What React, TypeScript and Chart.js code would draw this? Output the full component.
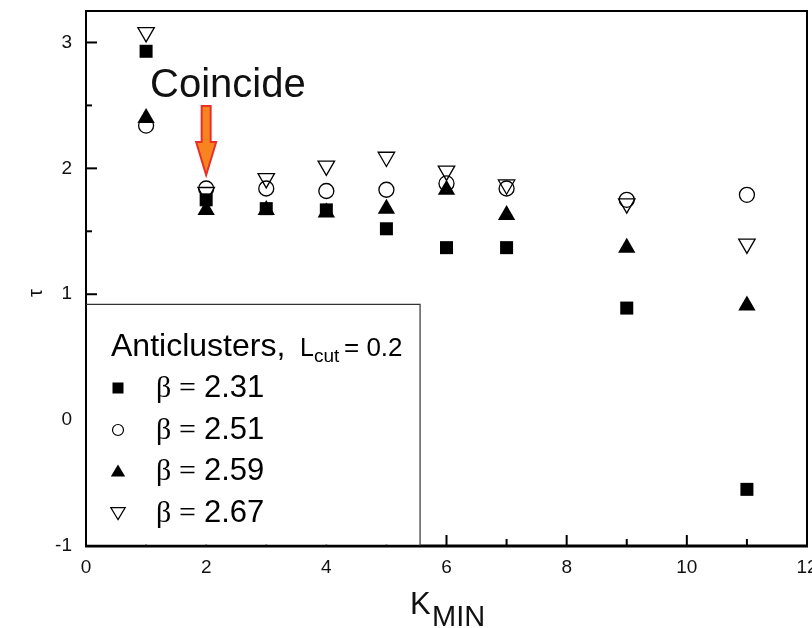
import React, { useEffect, useRef } from "react";
import { Chart, registerables } from "chart.js";

Chart.register(...registerables);

const kMin = [1, 2, 3, 4, 5, 6, 7, 9, 11];
const tau231 = [2.93, 1.75, 1.68, 1.67, 1.52, 1.37, 1.37, 0.89, -0.55];
const tau251 = [2.34, 1.84, 1.84, 1.82, 1.83, 1.88, 1.84, 1.75, 1.79];
const tau259 = [2.4, 1.67, 1.67, 1.65, 1.68, 1.83, 1.63, 1.37, 0.91];
const tau267 = [3.08, 1.81, 1.92, 2.02, 2.09, 1.98, 1.87, 1.72, 1.4];
const betaLabels = ["2.31", "2.51", "2.59", "2.67"];
const xTicks = [0, 2, 4, 6, 8, 10, 12];
const yTicks = [-1, 0, 1, 2, 3];
const legendTitle = "Anticlusters,";
const annotationText = "Coincide";

const SANS = '"Liberation Sans", Arial, sans-serif';
const SERIF = '"Liberation Serif", "Times New Roman", serif';

function pts(ys: number[]) {
  return kMin.map((x, i) => ({ x, y: ys[i] }));
}

function drawMarker(ctx: CanvasRenderingContext2D, kind: number, x: number, y: number, s: number) {
  ctx.save();
  ctx.lineWidth = 1.2;
  ctx.strokeStyle = "#000";
  ctx.fillStyle = "#000";
  ctx.beginPath();
  if (kind === 0) {
    ctx.fillRect(x - s / 2, y - s / 2, s, s);
  } else if (kind === 1) {
    ctx.arc(x, y, s / 2, 0, Math.PI * 2);
    ctx.stroke();
  } else if (kind === 2) {
    ctx.moveTo(x, y - s * 0.55);
    ctx.lineTo(x + s * 0.6, y + s * 0.45);
    ctx.lineTo(x - s * 0.6, y + s * 0.45);
    ctx.closePath();
    ctx.fill();
  } else {
    ctx.moveTo(x, y + s * 0.55);
    ctx.lineTo(x + s * 0.6, y - s * 0.45);
    ctx.lineTo(x - s * 0.6, y - s * 0.45);
    ctx.closePath();
    ctx.stroke();
  }
  ctx.restore();
}

const decorPlugin = {
  id: "decor",
  afterDatasetsDraw(chart: any) {
    const ctx: CanvasRenderingContext2D = chart.ctx;
    const { left, right, top, bottom } = chart.chartArea;
    const xs = chart.scales.x;
    const ys = chart.scales.y;
    ctx.save();
    // frame
    ctx.strokeStyle = "#000";
    ctx.lineWidth = 2;
    ctx.strokeRect(left, top, right - left, bottom - top);
    ctx.lineWidth = 3;
    ctx.beginPath();
    ctx.moveTo(left - 1, bottom);
    ctx.lineTo(right + 1, bottom);
    ctx.stroke();
    // ticks
    ctx.lineWidth = 2;
    for (let v = 0; v <= 12; v += 1) {
      const px = xs.getPixelForValue(v);
      const len = v % 2 === 0 ? 11 : 7;
      ctx.beginPath();
      ctx.moveTo(px, bottom);
      ctx.lineTo(px, bottom - len);
      ctx.stroke();
    }
    for (let v = -1; v <= 3; v += 0.5) {
      const py = ys.getPixelForValue(v);
      const len = Number.isInteger(v) ? 11 : 6;
      ctx.beginPath();
      ctx.moveTo(left, py);
      ctx.lineTo(left + len, py);
      ctx.stroke();
    }
    // legend box
    const lbLeft = left;
    const lbRight = xs.getPixelForValue(5.56);
    const lbTop = ys.getPixelForValue(0.92);
    ctx.fillStyle = "#fff";
    ctx.fillRect(lbLeft + 1, lbTop, lbRight - lbLeft - 1, bottom - lbTop - 1.5);
    ctx.lineWidth = 1.2;
    ctx.strokeStyle = "#333";
    ctx.beginPath();
    ctx.moveTo(lbLeft, lbTop);
    ctx.lineTo(lbRight, lbTop);
    ctx.lineTo(lbRight, bottom);
    ctx.stroke();

    ctx.fillStyle = "#000";
    ctx.textBaseline = "alphabetic";
    ctx.textAlign = "left";
    ctx.font = `32px ${SANS}`;
    ctx.fillText(legendTitle, lbLeft + 25, lbTop + 52);
    ctx.font = `25px ${SANS}`;
    ctx.fillText("L", lbLeft + 214, lbTop + 52);
    ctx.font = `19px ${SANS}`;
    ctx.fillText("cut", lbLeft + 228, lbTop + 58);
    ctx.font = `26px ${SANS}`;
    ctx.fillText("= 0.2", lbLeft + 258, lbTop + 52);

    const rowY = [388, 430, 471, 513];
    const rowBase = [397, 439, 480, 522];
    const sizes = [11, 11, 12, 12];
    betaLabels.forEach((lab, i) => {
      drawMarker(ctx, i, lbLeft + 32, rowY[i], sizes[i]);
      ctx.fillStyle = "#000";
      ctx.font = `30px ${SERIF}`;
      ctx.fillText("\u03b2", lbLeft + 70, rowBase[i]);
      ctx.fillText("=", lbLeft + 93, rowBase[i]);
      ctx.font = `31px ${SANS}`;
      ctx.fillText(lab, lbLeft + 118, rowBase[i]);
    });

    // Coincide annotation
    ctx.font = `40px ${SANS}`;
    ctx.fillStyle = "#111";
    ctx.fillText(annotationText, 150, 97);
    // arrow
    const ax = xs.getPixelForValue(2);
    ctx.beginPath();
    ctx.moveTo(ax - 4.5, 106);
    ctx.lineTo(ax + 4.5, 106);
    ctx.lineTo(ax + 4.5, 142);
    ctx.lineTo(ax + 10, 142);
    ctx.lineTo(ax, 175);
    ctx.lineTo(ax - 10, 142);
    ctx.lineTo(ax - 4.5, 142);
    ctx.closePath();
    ctx.fillStyle = "#f7841f";
    ctx.fill();
    ctx.lineWidth = 2;
    ctx.strokeStyle = "#e8302a";
    ctx.lineJoin = "miter";
    ctx.stroke();

    // axis titles
    ctx.fillStyle = "#111";
    ctx.font = `31px ${SANS}`;
    ctx.fillText("K", 410, 614);
    ctx.font = `29px ${SANS}`;
    ctx.fillText("MIN", 432, 626);

    ctx.save();
    ctx.translate(36, 293);
    ctx.rotate(-Math.PI / 2);
    ctx.textAlign = "center";
    ctx.textBaseline = "middle";
    ctx.font = `20px ${SANS}`;
    ctx.fillText("\u03c4", 0, 0);
    ctx.restore();

    ctx.restore();
  },
};

export default function App() {
  const ref = useRef<HTMLCanvasElement | null>(null);
  useEffect(() => {
    if (!ref.current) return;
    const hollow = "rgba(0,0,0,0)";
    const chart = new Chart(ref.current, {
      type: "scatter",
      data: {
        datasets: [
          {
            label: "2.31",
            data: pts(tau231),
            pointStyle: "rect",
            pointRadius: 9.2,
            backgroundColor: "#000",
            borderColor: "#000",
            borderWidth: 0,
            order: 4,
          },
          {
            label: "2.51",
            data: pts(tau251),
            pointStyle: "circle",
            pointRadius: 7.5,
            backgroundColor: hollow,
            borderColor: "#000",
            borderWidth: 1.3,
            order: 3,
          },
          {
            label: "2.59",
            data: pts(tau259),
            pointStyle: "triangle",
            pointRadius: 10,
            backgroundColor: "#000",
            borderColor: "#000",
            borderWidth: 0,
            order: 2,
          },
          {
            label: "2.67",
            data: pts(tau267),
            pointStyle: "triangle",
            rotation: 180,
            pointRadius: 9.5,
            backgroundColor: hollow,
            borderColor: "#000",
            borderWidth: 1.3,
            order: 1,
          },
        ] as any,
      },
      options: {
        animation: false,
        responsive: false,
        layout: { autoPadding: false, padding: { top: 11, right: 5, left: 0, bottom: 0 } },
        plugins: { legend: { display: false }, tooltip: { enabled: false } },
        scales: {
          x: {
            type: "linear",
            min: 0,
            max: 12,
            grid: { display: false, drawTicks: false },
            border: { display: false },
            afterFit: (s: any) => {
              s.height = 82;
              s.paddingLeft = 0;
              s.paddingRight = 0;
            },
            afterBuildTicks: (s: any) => {
              s.ticks = xTicks.map((v) => ({ value: v }));
            },
            ticks: {
              padding: 10,
              color: "#111",
              font: { family: SANS, size: 19 },
              maxRotation: 0,
            },
          },
          y: {
            type: "linear",
            min: -1,
            max: 3.25,
            grid: { display: false, drawTicks: false },
            border: { display: false },
            afterFit: (s: any) => {
              s.width = 86;
              s.paddingTop = 0;
              s.paddingBottom = 0;
            },
            afterBuildTicks: (s: any) => {
              s.ticks = yTicks.map((v) => ({ value: v }));
            },
            ticks: {
              padding: 14,
              color: "#111",
              font: { family: SANS, size: 19 },
            },
          },
        },
      },
      plugins: [decorPlugin],
    });
    return () => chart.destroy();
  }, []);
  return (
    <div style={{ position: "absolute", left: 0, top: 0, width: 812, height: 628, background: "#fff" }}>
      <canvas ref={ref} width={812} height={628} />
    </div>
  );
}
